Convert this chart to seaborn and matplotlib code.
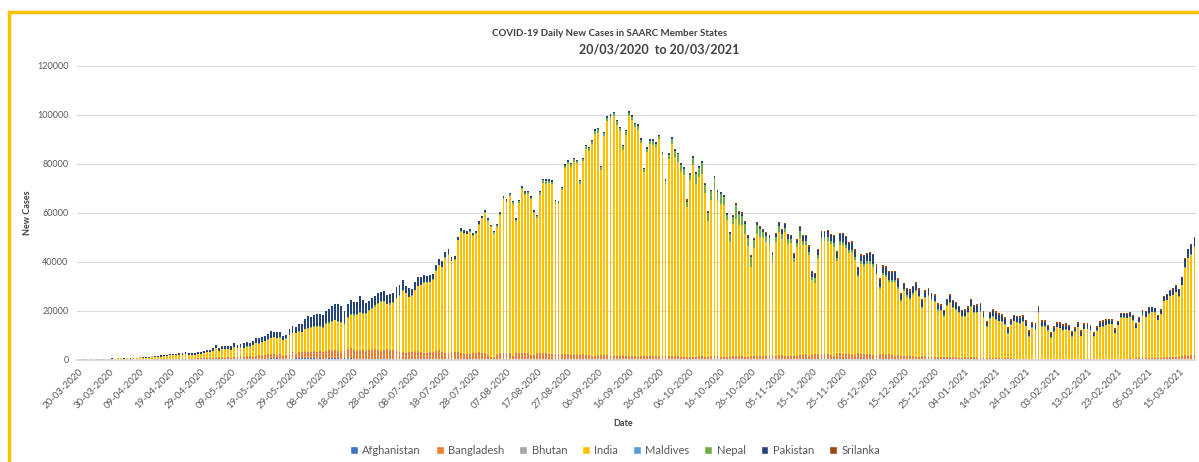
import pandas as pd
import matplotlib.pyplot as plt
import seaborn as sns
from matplotlib.patches import Patch, Rectangle

# series order as in the legend (bottom of stack first)
countries = ['Afghanistan', 'Bangladesh', 'Bhutan', 'India', 'Maldives', 'Nepal', 'Pakistan', 'Srilanka']
colors = ['#4472C4', '#ED7D31', '#A5A5A5', '#FFC000', '#5B9BD5', '#70AD47', '#264478', '#9E480E']

dates = pd.date_range('2020-03-20', '2021-03-20', freq='D')

# daily new cases, one line per month (Mar 20-31, Apr ... Mar 1-20)
afghanistan = [
    3, 2, 4, 6, 2, 10, 15, 15, 20, 10, 50, 30,
    20, 60, 30, 40, 30, 40, 30, 40, 40, 60, 40, 50, 60, 60, 90, 50, 40, 80, 70, 60, 80, 70, 100, 110, 50, 170, 110, 130, 170, 240,
    180, 170, 240, 230, 280, 170, 210, 370, 220, 250, 370, 410, 260, 370, 400, 350, 450, 500, 580, 480, 540, 780, 580, 620, 580, 580, 600, 600, 580, 870, 630,
    750, 680, 760, 780, 700, 500, 830, 500, 500, 750, 640, 660, 750, 580, 660, 500, 770, 450, 580, 480, 450, 320, 600, 420, 420, 350, 270, 340, 280, 340,
    300, 260, 270, 150, 250, 160, 300, 200, 400, 250, 250, 200, 280, 200, 200, 150, 100, 200, 100, 200, 100, 40, 150, 100, 80, 100, 100, 40, 60, 60, 80,
    30, 30, 80, 60, 40, 30, 70, 40, 20, 30, 40, 50, 20, 70, 40, 40, 40, 60, 30, 20, 40, 40, 20, 20, 30, 40, 30, 20, 60, 10, 20,
    30, 40, 50, 30, 30, 20, 40, 30, 30, 40, 30, 30, 20, 30, 60, 40, 30, 20, 40, 30, 30, 20, 40, 60, 40, 60, 50, 30, 40, 40,
    30, 60, 30, 60, 50, 60, 50, 60, 30, 60, 60, 60, 30, 80, 50, 70, 70, 100, 70, 80, 100, 90, 90, 100, 100, 90, 120, 100, 100, 140, 110,
    80, 120, 170, 190, 110, 170, 140, 220, 140, 100, 170, 140, 290, 200, 180, 240, 250, 170, 280, 200, 230, 300, 280, 250, 240, 200, 180, 240, 200, 230,
    300, 250, 200, 220, 300, 300, 140, 300, 260, 250, 180, 290, 220, 180, 160, 120, 180, 200, 140, 120, 170, 110, 120, 140, 200, 130, 100, 100, 100, 100, 120,
    80, 80, 100, 130, 90, 80, 80, 70, 50, 90, 60, 110, 70, 60, 70, 40, 60, 50, 60, 50, 50, 50, 60, 50, 40, 50, 40, 50, 30, 40, 40,
    30, 30, 20, 20, 30, 30, 20, 40, 30, 30, 20, 20, 20, 30, 20, 20, 30, 30, 20, 10, 20, 20, 20, 20, 20, 30, 30, 20,
    20, 20, 20, 10, 20, 30, 20, 20, 20, 20, 30, 20, 40, 30, 20, 30, 40, 30, 40, 20,
]

bangladesh = [
    0, 3, 3, 6, 0, 5, 0, 4, 0, 0, 1, 2,
    2, 2, 5, 9, 18, 35, 41, 54, 112, 94, 58, 139, 182, 209, 219, 341, 266, 306, 312, 492, 434, 390, 414, 503, 309, 418, 497, 549, 641, 564,
    571, 552, 665, 688, 786, 790, 706, 709, 636, 887, 1034, 1162, 1041, 1162, 1202, 930, 1273, 1602, 1251, 1617, 1773, 1694, 1873, 1532, 1975, 1166, 1541, 2029, 2523, 1764, 2545,
    2381, 2911, 2695, 2423, 2828, 2635, 2743, 2735, 3171, 3190, 3187, 3471, 2856, 3141, 3099, 3862, 4008, 3803, 3243, 3240, 3531, 3480, 3412, 3462, 3946, 3868, 3504, 3809, 4014, 3682,
    3775, 4019, 3114, 3288, 2738, 3201, 3027, 3489, 3360, 3163, 2686, 2666, 3099, 3163, 3533, 3733, 3034, 2709, 2459, 2928, 3057, 3057, 2744, 2520, 2548, 2275, 2772, 2960, 3009, 2695, 2772,
    2199, 1356, 887, 1918, 2654, 2977, 2851, 2611, 1666, 2907, 2996, 2617, 2747, 2766, 2024, 1895, 2907, 2867, 2668, 2868, 2265, 2401, 2485, 2545, 2211, 2519, 2467, 2131, 1897, 1950, 2024,
    2582, 2173, 1950, 1792, 1694, 1892, 1827, 1812, 1892, 1718, 1792, 1615, 1476, 1812, 1724, 1615, 1615, 1593, 1341, 1567, 1557, 1666, 1666, 1705, 1488, 1407, 1214, 1406, 1488, 1436,
    1396, 1440, 1182, 1125, 1215, 1275, 1193, 1264, 1396, 1407, 1205, 1193, 1637, 1478, 1543, 1312, 1276, 1192, 1275, 1537, 1557, 1696, 1586, 1308, 1129, 1337, 1493, 1604, 1681, 1604, 1330,
    1568, 1745, 1517, 1684, 1845, 1637, 1577, 1474, 1667, 1711, 1845, 1845, 2061, 1531, 1837, 2139, 2212, 2364, 2212, 2275, 1847, 1509, 2060, 2419, 2156, 2293, 2198, 1788, 1847, 2525,
    2293, 2198, 2198, 2316, 1788, 1402, 2198, 2139, 1937, 2202, 1728, 1351, 1674, 1637, 1604, 1572, 1462, 1304, 1192, 1214, 1372, 1275, 1212, 1008, 1014, 1027, 997, 1192, 1201, 1191, 1014,
    1011, 857, 820, 1015, 900, 1050, 950, 900, 800, 600, 700, 800, 720, 650, 620, 530, 570, 650, 600, 530, 470, 490, 500, 480, 400, 480, 470, 420, 480, 400, 390,
    340, 360, 390, 430, 420, 380, 300, 330, 400, 380, 350, 390, 380, 330, 290, 320, 400, 410, 380, 350, 370, 400, 450, 500, 560, 500, 600, 580,
    600, 600, 600, 650, 650, 700, 630, 840, 830, 1000, 1000, 1000, 1200, 1100, 1300, 1600, 1800, 1700, 2100, 2200,
]

bhutan = [
    0, 0, 1, 0, 0, 0, 0, 0, 0, 1, 0, 0,
    0, 0, 0, 0, 1, 0, 0, 0, 0, 0, 0, 0, 0, 0, 0, 1, 0, 0, 0, 0, 0, 0, 0, 0, 0, 0, 0, 0, 0, 0,
    0, 0, 0, 0, 0, 0, 0, 0, 0, 0, 0, 0, 0, 0, 0, 0, 0, 1, 1, 1, 4, 1, 0, 0, 2, 1, 3, 0, 3, 2, 4,
    5, 2, 3, 4, 0, 5, 1, 2, 3, 0, 3, 4, 1, 2, 6, 4, 3, 2, 1, 3, 0, 2, 1, 4, 3, 2, 1, 1, 3, 2,
    0, 1, 3, 1, 2, 0, 1, 2, 3, 1, 0, 2, 3, 1, 2, 0, 3, 1, 0, 2, 1, 0, 1, 3, 2, 1, 0, 3, 1, 2, 1,
    0, 1, 2, 3, 1, 2, 1, 2, 5, 10, 20, 30, 20, 10, 10, 30, 20, 20, 20, 10, 10, 30, 10, 20, 10, 20, 20, 30, 10, 10, 10,
    10, 20, 10, 10, 10, 10, 10, 10, 20, 10, 10, 10, 10, 10, 10, 10, 10, 10, 10, 10, 5, 10, 10, 5, 5, 10, 5, 5, 5, 5,
    5, 5, 10, 5, 5, 10, 5, 5, 5, 10, 5, 5, 5, 5, 10, 5, 5, 5, 5, 5, 5, 10, 5, 5, 5, 5, 5, 10, 5, 5, 5,
    3, 5, 4, 6, 2, 5, 3, 4, 5, 6, 3, 4, 5, 2, 4, 6, 3, 5, 4, 2, 3, 5, 4, 6, 3, 4, 5, 3, 4, 5,
    5, 6, 4, 8, 6, 4, 5, 5, 6, 7, 5, 4, 6, 5, 8, 10, 12, 20, 30, 40, 50, 60, 40, 30, 40, 30, 20, 30, 40, 30, 20,
    20, 30, 20, 30, 20, 30, 20, 10, 20, 10, 20, 10, 20, 10, 10, 10, 5, 10, 5, 10, 5, 5, 5, 5, 5, 5, 5, 5, 5, 5, 5,
    5, 5, 3, 5, 3, 2, 3, 2, 1, 2, 1, 2, 1, 1, 2, 1, 1, 2, 1, 1, 2, 1, 1, 1, 1, 1, 1, 1,
    1, 1, 2, 1, 1, 1, 2, 1, 1, 1, 1, 2, 1, 1, 1, 2, 1, 1, 1, 1,
]

india = [
    80, 90, 100, 70, 90, 80, 150, 150, 100, 230, 230, 440,
    330, 560, 600, 470, 700, 350, 540, 590, 900, 770, 910, 800, 1200, 1000, 1100, 990, 1200, 1300, 1500, 1300, 1400, 1400, 1700, 1800, 1600, 1600, 1500, 1800, 1700, 2000,
    2400, 2500, 2600, 3900, 2700, 3500, 3400, 3300, 3300, 4200, 3600, 3500, 3700, 3900, 3900, 4900, 5200, 4600, 5600, 5600, 6000, 6600, 6800, 6900, 6500, 6400, 6600, 7400, 7900, 8400, 8400,
    8200, 8900, 9300, 9900, 9900, 10400, 9900, 9900, 11000, 10900, 11500, 12000, 11900, 11500, 10700, 12900, 13600, 13800, 14500, 15400, 14800, 14900, 15900, 16900, 17300, 18600, 19900, 19500, 18500, 18600,
    19100, 20900, 22800, 24900, 24200, 22300, 22800, 24900, 26500, 27100, 28600, 28700, 28500, 29400, 32700, 34900, 34800, 38900, 40400, 37100, 37700, 45700, 49300, 48900, 48700, 49900, 47700, 48500, 52100, 55000, 57100,
    54700, 52900, 50600, 52500, 56300, 62500, 61500, 64400, 62100, 53600, 60900, 66900, 64500, 65000, 63500, 57900, 55100, 64500, 69700, 68900, 69900, 69200, 61400, 60900, 67200, 75800, 77300, 76500, 78800, 78500, 69900,
    78400, 83900, 83300, 86400, 90600, 90800, 75800, 89700, 95700, 96600, 97600, 94400, 92100, 83800, 90100, 97900, 96400, 93300, 92600, 86900, 75100, 83300, 86500, 86100, 85400, 88600, 82200, 70600, 80500, 86800,
    81500, 79500, 75800, 74400, 61300, 72000, 78500, 70500, 73300, 74300, 66700, 55300, 63500, 67700, 63400, 62200, 61900, 55700, 46800, 54000, 55800, 53400, 53400, 50100, 45100, 36500, 43900, 49900, 48600, 48300, 46900,
    45200, 38300, 46300, 50200, 47600, 50400, 45700, 45900, 38100, 44300, 47900, 44900, 44700, 41100, 30500, 29200, 38600, 45600, 45900, 46200, 45200, 44100, 37900, 44400, 44500, 43100, 41300, 41800, 38800, 31100,
    36600, 35600, 36600, 36600, 36000, 32900, 26600, 32100, 31500, 29400, 30000, 30300, 27100, 22100, 26400, 24000, 22900, 25100, 26600, 24300, 19600, 23900, 24700, 23100, 22300, 19000, 18700, 16400, 20500, 21800, 20000,
    19100, 18200, 16500, 16400, 18100, 20300, 18100, 18200, 18600, 16300, 12600, 15900, 16900, 15600, 15100, 15100, 13800, 10100, 13800, 15200, 14500, 14300, 14900, 13200, 9100, 12700, 11700, 18900, 13100, 13000, 11400,
    8600, 11000, 12900, 12400, 11700, 12000, 11800, 9100, 11100, 12900, 9300, 12100, 12200, 11600, 9100, 11600, 12900, 13200, 13900, 14300, 14200, 10600, 13700, 16700, 16600, 16500, 16800, 15500,
    12300, 14900, 17400, 16800, 18300, 18700, 18600, 15400, 17900, 22900, 23300, 24900, 25300, 26500, 24500, 28900, 35900, 39700, 40900, 43800,
]

maldives = [
    0, 0, 0, 0, 0, 0, 0, 0, 0, 0, 0, 0,
    0, 0, 0, 0, 0, 0, 0, 0, 0, 0, 0, 0, 0, 0, 1, 2, 1, 1, 0, 5, 16, 20, 15, 20, 10, 20, 40, 40, 20, 30,
    40, 30, 20, 50, 60, 40, 20, 20, 80, 60, 30, 50, 40, 40, 70, 60, 40, 40, 80, 60, 60, 50, 40, 30, 60, 50, 40, 20, 40, 20, 30,
    60, 40, 30, 10, 20, 20, 20, 40, 20, 30, 40, 20, 30, 20, 30, 30, 10, 20, 10, 30, 20, 20, 10, 20, 10, 20, 10, 20, 30, 30,
    20, 20, 20, 20, 30, 10, 20, 20, 20, 40, 40, 50, 50, 40, 40, 50, 60, 60, 50, 80, 80, 60, 70, 90, 80, 100, 110, 80, 80, 90, 100,
    110, 70, 120, 90, 80, 100, 130, 150, 90, 120, 140, 80, 90, 110, 130, 100, 90, 100, 140, 130, 130, 150, 120, 90, 100, 80, 120, 100, 80, 90, 80,
    90, 80, 70, 60, 110, 70, 80, 100, 90, 70, 90, 80, 60, 100, 80, 70, 60, 50, 70, 60, 50, 60, 40, 60, 50, 40, 60, 40, 50, 50,
    50, 40, 50, 40, 60, 40, 30, 60, 50, 40, 50, 40, 50, 30, 60, 40, 50, 30, 40, 50, 40, 30, 40, 50, 30, 40, 30, 40, 30, 30, 40,
    30, 40, 30, 20, 30, 40, 30, 40, 30, 20, 30, 40, 30, 20, 30, 40, 30, 30, 20, 40, 30, 20, 30, 20, 30, 20, 30, 20, 30, 20,
    30, 20, 30, 20, 30, 20, 20, 30, 20, 20, 30, 20, 20, 30, 20, 20, 30, 20, 30, 40, 20, 30, 30, 20, 30, 40, 30, 20, 30, 40, 50,
    50, 60, 70, 80, 90, 100, 80, 100, 120, 80, 90, 100, 110, 120, 90, 100, 110, 80, 90, 100, 120, 110, 100, 130, 150, 120, 160, 180, 170, 150, 180,
    190, 200, 180, 160, 150, 160, 170, 200, 150, 160, 130, 180, 140, 100, 120, 130, 110, 120, 100, 120, 90, 70, 90, 80, 80, 60, 80, 70,
    60, 70, 60, 60, 50, 70, 60, 50, 80, 70, 60, 70, 60, 60, 50, 50, 60, 50, 60, 50,
]

nepal = [
    0, 0, 0, 0, 0, 0, 0, 1, 0, 0, 0, 0,
    0, 0, 1, 1, 0, 0, 0, 0, 0, 0, 0, 0, 1, 2, 1, 1, 1, 1, 0, 2, 3, 3, 0, 1, 3, 4, 1, 1, 0, 2,
    2, 0, 0, 1, 6, 0, 1, 2, 0, 12, 0, 10, 20, 34, 16, 23, 36, 80, 25, 28, 59, 54, 100, 77, 90, 68, 82, 105, 70, 160, 150,
    140, 170, 280, 290, 330, 320, 230, 330, 270, 440, 390, 360, 340, 300, 460, 250, 410, 500, 350, 430, 580, 500, 400, 440, 600, 400, 300, 250, 170, 480,
    300, 230, 250, 230, 120, 110, 220, 110, 110, 140, 120, 80, 100, 110, 80, 100, 100, 140, 130, 150, 300, 150, 200, 150, 180, 120, 200, 300, 300, 200, 380,
    280, 200, 400, 380, 420, 500, 330, 400, 410, 600, 630, 700, 800, 450, 500, 580, 600, 1000, 800, 1100, 800, 900, 800, 1000, 700, 900, 1000, 1100, 1000, 800, 1100,
    1000, 1200, 1100, 1000, 1100, 1300, 1000, 1100, 1200, 1200, 1200, 1400, 1100, 1500, 1300, 1300, 1200, 1300, 1600, 1300, 1200, 1200, 1300, 1600, 1300, 1300, 1000, 1100, 1600, 1800,
    2500, 3000, 2600, 2500, 1900, 2000, 2700, 4000, 3600, 4600, 3400, 3500, 3700, 5000, 3500, 4000, 3200, 2200, 3400, 2800, 5700, 4400, 3700, 3900, 3600, 4000, 3300, 3500, 3100, 2300, 2400,
    2800, 2500, 2200, 2500, 2000, 1800, 2100, 1800, 1600, 1700, 2800, 1800, 1500, 1200, 1400, 1800, 1800, 1600, 1600, 1300, 1100, 1900, 1300, 1500, 1400, 1200, 1200, 1100, 1200, 1000,
    1100, 1300, 1200, 1100, 900, 900, 900, 1100, 1000, 900, 800, 800, 900, 600, 700, 700, 800, 600, 600, 500, 500, 500, 500, 400, 500, 500, 400, 500, 400, 500, 400,
    400, 300, 300, 300, 400, 500, 300, 300, 300, 300, 300, 300, 300, 250, 200, 300, 200, 200, 200, 200, 200, 150, 150, 200, 200, 200, 150, 200, 150, 150, 150,
    120, 140, 120, 130, 110, 100, 80, 100, 90, 110, 100, 100, 90, 80, 70, 80, 90, 100, 80, 90, 70, 70, 60, 80, 90, 60, 80, 80,
    80, 60, 90, 100, 90, 80, 100, 70, 60, 80, 90, 100, 120, 100, 100, 110, 100, 120, 130, 150,
]

pakistan = [
    100, 150, 250, 100, 100, 100, 200, 130, 120, 150, 150, 240,
    170, 200, 250, 200, 250, 200, 210, 250, 250, 300, 300, 240, 360, 280, 400, 450, 500, 500, 500, 500, 600, 750, 650, 800, 800, 700, 650, 800, 800, 900,
    1000, 1000, 1300, 1100, 1000, 1000, 1500, 1500, 1600, 1500, 1100, 1400, 1900, 2000, 1500, 1500, 1800, 2000, 1900, 1900, 2200, 2600, 2100, 2200, 2100, 1400, 1400, 2400, 2600, 2400, 2900,
    3000, 3900, 4700, 4100, 4700, 4700, 4900, 4700, 5000, 5400, 6100, 6400, 6800, 6500, 5200, 5300, 5800, 4900, 4900, 6600, 4900, 3900, 3900, 3900, 4000, 3900, 3700, 4100, 3500, 3600,
    4000, 4300, 4100, 4000, 3000, 3400, 2700, 3200, 3400, 2700, 2800, 2400, 2700, 2000, 2100, 2100, 2100, 1900, 2000, 1500, 1100, 1300, 1300, 1200, 1200, 1000, 1100, 900, 1000, 900, 800,
    600, 500, 400, 500, 700, 700, 700, 600, 500, 500, 600, 700, 700, 600, 600, 500, 400, 500, 600, 700, 600, 600, 600, 500, 400, 500, 600, 500, 500, 300, 300,
    200, 400, 500, 500, 600, 500, 300, 400, 500, 600, 500, 500, 400, 400, 400, 500, 600, 600, 700, 600, 500, 500, 600, 600, 600, 500, 500, 500, 700, 700,
    600, 600, 700, 600, 500, 500, 600, 700, 600, 700, 600, 500, 400, 600, 700, 800, 700, 600, 600, 500, 600, 700, 800, 800, 700, 600, 700, 900, 800, 800, 900,
    1100, 1000, 1200, 1300, 1400, 1500, 1500, 1300, 1500, 1300, 1600, 1700, 2000, 2200, 2100, 1800, 2100, 2300, 2200, 2500, 2700, 2600, 2500, 2700, 3000, 3300, 2800, 3000, 2500, 2600,
    2200, 2900, 3100, 3300, 3800, 3000, 2800, 2200, 3000, 3000, 2900, 3000, 2800, 2400, 2000, 2600, 2900, 2500, 2600, 2500, 2300, 1900, 2300, 2200, 2000, 1800, 1900, 1600, 2100, 2500, 2400,
    2500, 2000, 2000, 2200, 1700, 2300, 2500, 2600, 2800, 2000, 1500, 1800, 2000, 2500, 2100, 1900, 2000, 1600, 1300, 1700, 2000, 1900, 1800, 1600, 1400, 1300, 1600, 1600, 1700, 1600, 1500,
    1400, 1300, 1100, 1600, 1500, 1400, 1300, 1200, 900, 1100, 1400, 1400, 1500, 1300, 1100, 1000, 1400, 1500, 1400, 1300, 1300, 1200, 1000, 1300, 1400, 1500, 1600, 1500,
    1500, 1500, 1800, 2000, 2000, 1900, 1700, 1600, 1600, 1600, 2000, 2200, 2400, 2600, 2800, 3000, 3500, 3500, 3700, 3800,
]

srilanka = [
    12, 14, 10, 7, 15, 5, 6, 4, 6, 7, 3, 21,
    2, 3, 1, 8, 3, 5, 7, 5, 10, 7, 8, 2, 11, 4, 5, 4, 10, 16, 40, 30, 14, 30, 16, 38, 46, 30, 65, 20, 30, 30,
    10, 20, 30, 20, 20, 10, 10, 10, 10, 10, 30, 20, 20, 10, 20, 30, 20, 10, 10, 40, 30, 20, 30, 30, 80, 60, 60, 80, 40, 40, 80,
    20, 20, 40, 30, 30, 10, 10, 10, 10, 10, 20, 10, 10, 10, 10, 20, 10, 10, 10, 20, 10, 10, 10, 5, 10, 10, 10, 5, 10, 10,
    5, 20, 20, 10, 10, 20, 10, 10, 10, 300, 100, 100, 10, 40, 10, 10, 10, 10, 10, 10, 10, 10, 10, 10, 10, 5, 5, 10, 10, 10, 5,
    5, 5, 5, 5, 5, 5, 5, 5, 5, 5, 5, 5, 5, 10, 5, 10, 10, 10, 10, 5, 10, 10, 5, 5, 5, 5, 10, 5, 5, 5, 5,
    5, 5, 5, 5, 10, 5, 5, 5, 10, 10, 5, 10, 20, 10, 10, 5, 10, 5, 10, 5, 5, 5, 5, 5, 10, 10, 10, 5, 5, 5,
    5, 5, 10, 200, 800, 300, 200, 300, 200, 100, 100, 300, 100, 100, 200, 200, 100, 200, 200, 300, 300, 300, 700, 500, 350, 330, 400, 350, 550, 400, 400,
    400, 400, 400, 300, 400, 400, 300, 400, 500, 400, 400, 500, 400, 500, 300, 400, 400, 400, 500, 400, 400, 400, 400, 500, 400, 400, 600, 500, 600, 500,
    600, 500, 500, 600, 600, 600, 600, 700, 600, 600, 600, 700, 600, 500, 500, 500, 600, 600, 600, 600, 700, 600, 600, 600, 700, 600, 600, 600, 700, 600, 600,
    600, 600, 600, 600, 700, 600, 600, 700, 700, 600, 800, 700, 700, 700, 900, 700, 800, 600, 800, 600, 700, 800, 700, 700, 800, 700, 800, 700, 800, 800, 800,
    800, 800, 800, 800, 800, 900, 800, 800, 800, 900, 800, 800, 800, 900, 800, 800, 900, 800, 800, 700, 700, 700, 600, 600, 600, 500, 400, 500,
    500, 400, 500, 400, 400, 300, 200, 300, 400, 300, 300, 300, 300, 300, 300, 300, 300, 300, 300, 300,
]

series = dict(zip(countries, [afghanistan, bangladesh, bhutan, india, maldives, nepal, pakistan, srilanka]))
for name, vals in series.items():
    assert len(vals) == len(dates), (name, len(vals))

# long format: one row per day and country
df = pd.DataFrame(series)
df['day'] = range(len(dates))
long_df = df.melt(id_vars='day', var_name='country', value_name='cases')

sns.set_theme(style='white')
plt.rcParams['font.family'] = ['Lato', 'DejaVu Sans']

fig = plt.figure(figsize=(11.99, 4.62), dpi=100)
ax = fig.add_axes([0.0642, 0.2208, 0.9333, 0.6364])

# seaborn puts the first hue level on top of the stack, so reverse it
sns.histplot(data=long_df, x='day', weights='cases', hue='country',
             hue_order=countries[::-1], palette=dict(zip(countries, colors)),
             multiple='stack', discrete=True, shrink=0.62, alpha=1,
             linewidth=0, legend=False, ax=ax)

ax.set_xlim(-0.5, len(dates) - 0.5)
ax.set_ylim(0, 120000)
ax.set_yticks(range(0, 120001, 20000))
ax.yaxis.grid(True, color='#D9D9D9', linewidth=0.8)
ax.set_axisbelow(True)
ax.tick_params(axis='y', length=0, labelsize=6.5, labelcolor='#595959', pad=6)

ticks = list(range(0, len(dates), 10))
ax.set_xticks(ticks)
ax.set_xticklabels([dates[i].strftime('%d-%m-%Y') for i in ticks], rotation=45,
                   ha='right', rotation_mode='anchor', fontsize=7, color='#595959')
ax.tick_params(axis='x', length=0, pad=5)
ax.set_xticks([t - 0.5 for t in ticks], minor=True)
ax.tick_params(axis='x', which='minor', length=3, color='#D9D9D9', width=0.8)

for side in ['top', 'right', 'left']:
    ax.spines[side].set_visible(False)
ax.spines['bottom'].set_color('#D9D9D9')
ax.set_xlabel('')
ax.set_ylabel('')

fig.text(27 / 1199, 1 - 213 / 462, 'New Cases', rotation=90, ha='center', va='center',
         fontsize=6.5, fontweight='bold', color='#404040')
fig.text(623 / 1199, 1 - 423 / 462, 'Date', ha='center', va='center',
         fontsize=6.5, fontweight='bold', color='#404040')

fig.text(610 / 1199, 1 - 33 / 462, 'COVID-19 Daily New Cases in SAARC Member States',
         ha='center', va='center', fontsize=7, fontweight='bold', color='#404040')
fig.text(659 / 1199, 1 - 50 / 462, '20/03/2020  to 20/03/2021',
         ha='center', va='center', fontsize=9, fontweight='bold', color='#404040')

handles = [Patch(facecolor=c, label=n) for n, c in zip(countries, colors)]
fig.legend(handles=handles, loc='center', bbox_to_anchor=(0.513, 1 - 450 / 462), ncol=8,
           frameon=False, fontsize=8, handlelength=0.7, handleheight=0.7,
           handletextpad=0.4, columnspacing=1.35, labelcolor='#595959')

# gold chart-area border (cut off on the right and bottom in the reference)
fig.patches.append(Rectangle((8.5 / 1199, -0.1), 1.2, 1.1 - 11.5 / 462, transform=fig.transFigure,
                             fill=False, edgecolor='#FFC000', linewidth=2.5))

fig.savefig('out.png', dpi=100)
